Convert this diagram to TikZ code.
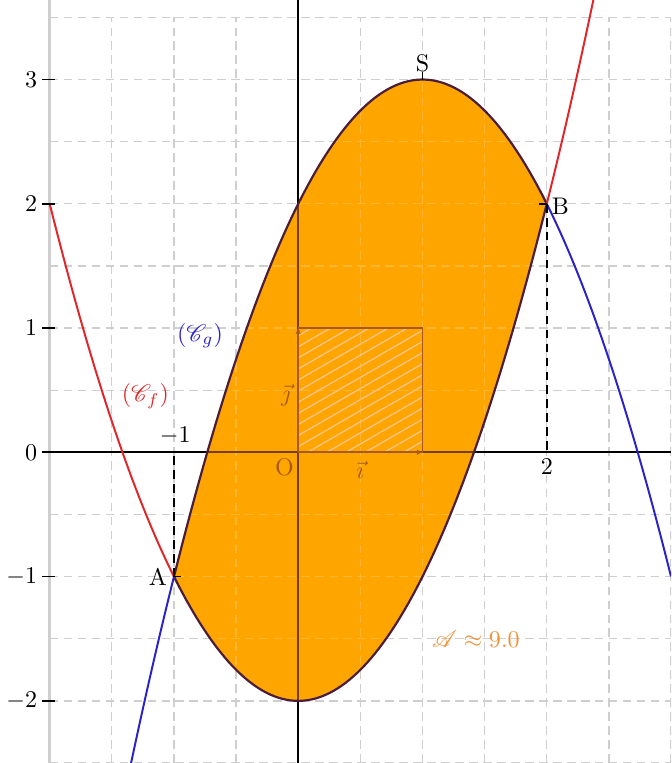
\documentclass[tikz,border=0pt]{standalone}
\usepackage{amssymb, amsmath}
\usepackage{mathrsfs}
\usetikzlibrary{arrows.meta}
\usetikzlibrary{patterns.meta}
\usetikzlibrary{positioning}
\definecolor{fig-area}{HTML}{FFA500}
\definecolor{fig-edge}{HTML}{4A1E3A}
\definecolor{fig-cf}{HTML}{E0262A}
\definecolor{fig-cg}{HTML}{2A22C8}
\definecolor{fig-vec}{HTML}{A85A1E}
\definecolor{fig-hatch}{HTML}{F9C48A}
\definecolor{fig-grid}{HTML}{CFCFCF}
\definecolor{fig-label}{HTML}{F0923A}

\begin{document}
\begin{tikzpicture}[>={Latex[length=1.3pt, width=1.3pt]}, every node/.style={scale=0.55, transform shape, inner sep=1pt}]
    \useasboundingbox (-2.4,-2.5) rectangle (3.0,3.64);
    \clip (-2.4,-2.5) rectangle (3.0,3.64);

    % Grid
    \draw[fig-grid, line width=0.3pt, dash pattern=on 2pt off 1.2pt] (-2,-2.5) grid[step=0.5] (3,3.5);
    \draw[fig-grid, line width=0.8pt] (-2,-2.5) -- (-2,3.64);

    % Axes
    \draw[black, line width=0.45pt] (-2,0) -- (3,0);
    \draw[black, line width=0.45pt] (0,-2.5) -- (0,3.64);

    % Points
    \coordinate (A) at (-1,-1);
    \coordinate (B) at (2,2);
    \coordinate (S) at (1,3);
    \coordinate (O) at (0,0);

    % Area between the curves
    \fill[fig-area] plot[domain=-1:2, samples=90] (\x,{-(\x)^2+2*\x+2})
        -- plot[domain=2:-1, samples=90] (\x,{(\x)^2-2}) -- cycle;
    \begin{scope}
        \clip plot[domain=-1:2, samples=90] (\x,{-(\x)^2+2*\x+2})
            -- plot[domain=2:-1, samples=90] (\x,{(\x)^2-2}) -- cycle;
        \draw[white, line width=0.3pt, dash pattern=on 2pt off 1.2pt, draw opacity=0.2] (-2,-2.5) grid[step=0.5] (3,3.5);
        \draw[fig-vec!70!black, line width=0.45pt] (-2,0) -- (3,0);
        \draw[fig-vec!70!black, line width=0.45pt] (0,-2.5) -- (0,3.5);
    \end{scope}
    \draw[fig-edge, line width=0.5pt] plot[domain=-1:2, samples=90] (\x,{-(\x)^2+2*\x+2})
        -- plot[domain=2:-1, samples=90] (\x,{(\x)^2-2});

    % Curves outside
    \draw[fig-cg, line width=0.45pt] plot[domain=-1.4:-1, samples=20] (\x,{-(\x)^2+2*\x+2});
    \draw[fig-cg, line width=0.45pt] plot[domain=2:3, samples=40] (\x,{-(\x)^2+2*\x+2});
    \draw[fig-cf, line width=0.45pt] plot[domain=-2:-1, samples=40] (\x,{(\x)^2-2});
    \draw[fig-cf, line width=0.45pt] plot[domain=2:2.4, samples=20] (\x,{(\x)^2-2});

    % Dashed guides
    \draw[black, line width=0.4pt, dash pattern=on 2pt off 1.2pt] (A) -- (-1,0);
    \draw[black, line width=0.4pt, dash pattern=on 2pt off 1.2pt] (B) -- (2,0);

    % Unit square and vectors
    \draw[fig-vec, line width=0.3pt, pattern={Lines[angle=30, distance=2.2pt, line width=0.3pt]}, pattern color=fig-hatch] (O) rectangle (1,1);
    \draw[->, fig-vec, line width=0.4pt] (O) -- (1,0);
    \draw[->, fig-vec, line width=0.4pt] (O) -- (0,1);

    % Ticks
    \foreach \y in {-2,...,3} {
        \draw[black, line width=0.4pt] (-2.06,\y) -- (-1.96,\y);
        \node[left=0.5pt] (ytick\y) at (-2.06,\y) {$\y$};
    }
    \draw[black, line width=0.35pt] (S) -- ++(0,0.06);
    \draw[black, line width=0.35pt] (B) -- ++(-0.06,0);
    \draw[black, line width=0.35pt] (A) -- ++(0.06,0);

    % Labels
    \node (labm1) at (-0.99,0.13) {$-1$};
    \node (lab2) at (2,-0.12) {$2$};
    \node[fig-vec] (labO) at (-0.11,-0.12) {O};
    \node[fig-vec] (labi) at (0.5,-0.14) {$\vec{\imath}$};
    \node[fig-vec] (labj) at (-0.1,0.46) {$\vec{\jmath}$};
    \node (labS) at (1,3.13) {S};
    \node (labB) at (2.11,1.98) {B};
    \node (labA) at (-1.13,-1.0) {A};
    \node[fig-cg] (labg) at (-0.79,0.94) {$(\mathscr{C}_g)$};
    \node[fig-cf] (labf) at (-1.23,0.45) {$(\mathscr{C}_f)$};
    \node[fig-label] (labarea) at (1.43,-1.5) {$\mathscr{A}\approx 9.0$};
\end{tikzpicture}
\end{document}
